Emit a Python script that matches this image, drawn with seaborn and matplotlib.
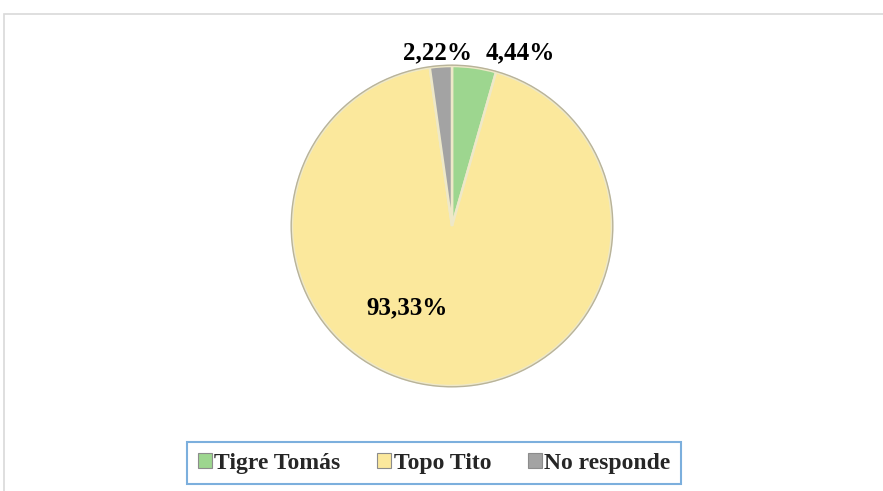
import matplotlib
matplotlib.use("Agg")
import matplotlib.pyplot as plt
from matplotlib.patches import Patch, Rectangle
import seaborn as sns

# data
categories = ["Tigre Tomás", "Topo Tito", "No responde"]
percentages = [4.44, 93.33, 2.22]
pct_labels = ["4,44%", "93,33%", "2,22%"]
colors = ["#9dd68f", "#fbe89c", "#a3a3a3"]

sns.set_theme(style="white")
plt.rcParams['font.family'] = ['Liberation Serif', 'DejaVu Serif']

fig = plt.figure(figsize=(8.83, 4.91), dpi=100)

# outer chart frame (extends past right and bottom edge like the original)
fig.patches.append(Rectangle((4 / 883, -0.2), 2, 1.2 - 14 / 491,
                             transform=fig.transFigure, fill=False,
                             edgecolor="#d9d9d9", linewidth=1.2))

ax = fig.add_axes([252 / 883, 65 / 491, 400 / 883, 400 / 491])

wedges, _ = ax.pie(percentages, colors=colors, startangle=90, counterclock=False,
                   wedgeprops=dict(edgecolor="#eee8c8", linewidth=1.8))
# thin darker rim around the pie
rim = plt.Circle((0, 0), 1.005, fill=False, edgecolor="#b8b39a", linewidth=1.0)
ax.add_patch(rim)

ax.set_xlim(-1.25, 1.25)
ax.set_ylim(-1.25, 1.25)
ax.set_aspect("equal")

# label positions (in pie radius units)
label_pos = [(0.425, 1.08), (-0.28, -0.51), (-0.09, 1.08)]
for (x, y), txt in zip(label_pos, pct_labels):
    ax.text(x, y, txt, ha="center", va="center", fontsize=18,
            fontweight="bold", color="black")

handles = [Patch(facecolor=c, edgecolor="#8c8c8c", linewidth=0.8) for c in colors]
leg = fig.legend(handles, categories, loc="center", bbox_to_anchor=(434 / 883, 1 - 463 / 491),
                 ncol=3, frameon=True, fancybox=False,
                 prop=dict(weight="bold", size=17),
                 handlelength=0.6, handleheight=0.6, handletextpad=0.1,
                 columnspacing=1.55, borderpad=0.45, borderaxespad=0)
leg.get_frame().set_edgecolor("#5b9bd5")
leg.get_frame().set_linewidth(1.5)

fig.savefig("out.png", dpi=100)
